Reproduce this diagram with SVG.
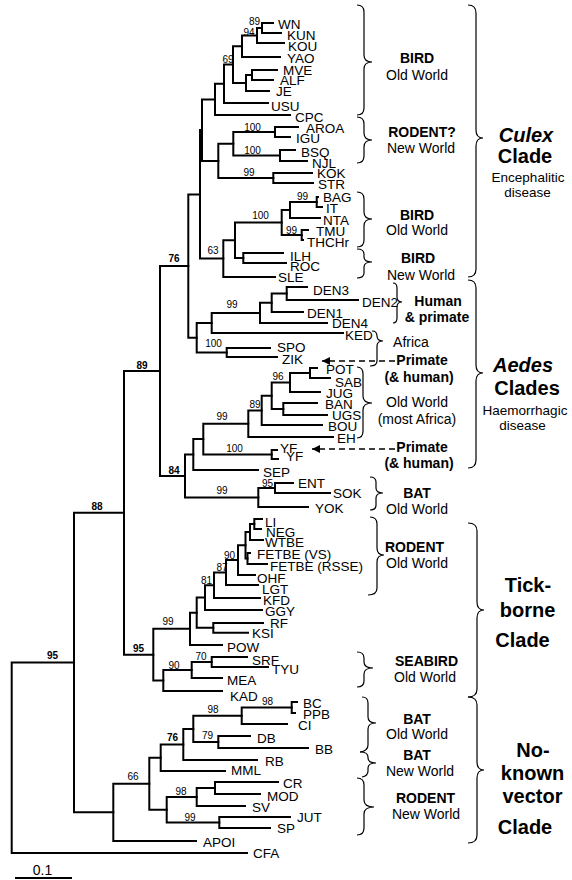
<svg xmlns="http://www.w3.org/2000/svg" width="572" height="880" viewBox="0 0 572 880">
<style>
  text{font-family:"Liberation Sans",Arial,Helvetica,sans-serif;fill:#000}
  .leaf{font-size:13.5px}
  .bs{font-size:10px;text-anchor:middle}
  .bsb{font-size:10px;font-weight:bold;text-anchor:middle}
  .host{font-size:14px;text-anchor:middle}
  .hb{font-size:14px;font-weight:bold;text-anchor:middle}
  .clade{font-size:20px;font-weight:bold;text-anchor:middle}
  .cladei{font-size:20px;font-weight:bold;font-style:italic;text-anchor:middle}
  .sub{font-size:13.5px;text-anchor:middle}
  .branch{fill:none;stroke:#000;stroke-width:2;stroke-linecap:square}
  .brace{fill:none;stroke:#000;stroke-width:1.2}
  .dash{fill:none;stroke:#000;stroke-width:1.3;stroke-dasharray:6 4}
</style>
<defs>
  <marker id="head" viewBox="0 0 10 10" refX="10" refY="5" markerWidth="10" markerHeight="8" markerUnits="userSpaceOnUse" orient="auto">
    <path d="M0,0L10,5L0,10z" fill="#000"/>
  </marker>
</defs>
<rect width="572" height="880" fill="#fff"/>

<!-- tree branches -->
<g id="connectors">
  <!-- Culex clade -->
  <path class="branch" d="M262,23V33M262,23H273M262,33H281"/>
  <path class="branch" d="M257,28V43M257,28H262M257,43H284"/>
  <path class="branch" d="M242,35.5V57M242,35.5H257M242,57H280"/>
  <path class="branch" d="M252,70V80M252,70H277M252,80H273"/>
  <path class="branch" d="M246,75V91M246,75H252M246,91H269"/>
  <path class="branch" d="M233,46.25V83M233,46.25H242M233,83H246"/>
  <path class="branch" d="M224,64.6V103M224,64.6H233M224,103H268"/>
  <path class="branch" d="M215,83.8V115M215,83.8H224M215,115H290"/>
  <path class="branch" d="M275,127V137M275,127H298M275,137H290"/>
  <path class="branch" d="M280,150V161M280,150H295M280,161H307"/>
  <path class="branch" d="M233.3,132V155.5M233.3,132H275M233.3,155.5H280"/>
  <path class="branch" d="M273.3,173V183M273.3,173H312M273.3,183H313"/>
  <path class="branch" d="M218.3,143.75V178M218.3,143.75H233.3M218.3,178H273.3"/>
  <path class="branch" d="M202,99.4V160.9M202,99.4H215M202,160.9H218.3"/>
  <path class="branch" d="M316.7,197V207M316.7,197H318M316.7,207H322"/>
  <path class="branch" d="M290,202V218M290,202H316.7M290,218H320"/>
  <path class="branch" d="M301.7,230V240M301.7,230H308M301.7,240H303"/>
  <path class="branch" d="M281.7,210V235M281.7,210H290M281.7,235H301.7"/>
  <path class="branch" d="M243.3,253V263M243.3,253H283M243.3,263H286"/>
  <path class="branch" d="M235,222.5V258M235,222.5H281.7M235,258H243.3"/>
  <path class="branch" d="M223.3,240.25V277M223.3,240.25H235M223.3,277H275"/>
  <path class="branch" d="M200,130.1V258.6M200,130.1H202M200,258.6H223.3"/>
  <path class="branch" d="M188.3,194.4V337.7M188.3,194.4H200M188.3,337.7H196.7"/>
  <!-- Aedes clades -->
  <path class="branch" d="M286.7,287V300M286.7,287H307M286.7,300H358"/>
  <path class="branch" d="M271.7,293.5V312M271.7,293.5H286.7M271.7,312H303"/>
  <path class="branch" d="M260,302.75V323M260,302.75H271.7M260,323H327"/>
  <path class="branch" d="M211.7,312.9V333M211.7,312.9H260M211.7,333H343"/>
  <path class="branch" d="M226.7,348V357M226.7,348H270M226.7,357H277"/>
  <path class="branch" d="M196.7,323V352.5M196.7,323H211.7M196.7,352.5H226.7"/>
  <path class="branch" d="M310,368V378M310,368H317M310,378H330"/>
  <path class="branch" d="M290,373V392M290,373H310M290,392H320"/>
  <path class="branch" d="M283.3,403V415M283.3,403H317M283.3,415H327"/>
  <path class="branch" d="M271.7,382.5V409M271.7,382.5H290M271.7,409H283.3"/>
  <path class="branch" d="M261.7,395.75V425M261.7,395.75H271.7M261.7,425H322"/>
  <path class="branch" d="M248.3,410.4V437M248.3,410.4H261.7M248.3,437H333"/>
  <path class="branch" d="M271.7,450V459M271.7,450H277M271.7,459H278"/>
  <path class="branch" d="M203.3,423.7V454.5M203.3,423.7H248.3M203.3,454.5H271.7"/>
  <path class="branch" d="M193.3,439.1V470M193.3,439.1H203.3M193.3,470H258"/>
  <path class="branch" d="M275,483V493M275,483H293M275,493H330"/>
  <path class="branch" d="M258.3,488V507M258.3,488H275M258.3,507H308"/>
  <path class="branch" d="M185,454.5V497.5M185,454.5H193.3M185,497.5H258.3"/>
  <path class="branch" d="M160,266V476M160,266H188.3M160,476H185"/>
  <!-- Tick-borne clade -->
  <path class="branch" d="M254.3,519V529M254.3,519H262M254.3,529H261"/>
  <path class="branch" d="M250,524V540M250,524H254.3M250,540H263"/>
  <path class="branch" d="M247.5,553V564M247.5,553H250M247.5,564H267"/>
  <path class="branch" d="M245.5,532V558.5M245.5,532H250M245.5,558.5H247.5"/>
  <path class="branch" d="M238,545.25V575M238,545.25H245.5M238,575H255"/>
  <path class="branch" d="M226,560.1V585M226,560.1H238M226,585H258"/>
  <path class="branch" d="M214,572.55V598M214,572.55H226M214,598H260"/>
  <path class="branch" d="M205,585.3V610M205,585.3H214M205,610H262"/>
  <path class="branch" d="M213.3,623V632.7M213.3,623H263M213.3,632.7H248"/>
  <path class="branch" d="M196.7,597.6V627.85M196.7,597.6H205M196.7,627.85H213.3"/>
  <path class="branch" d="M190,612.7V645M190,612.7H196.7M190,645H222"/>
  <path class="branch" d="M211.7,657V667M211.7,657H247M211.7,667H268"/>
  <path class="branch" d="M191.7,662V678M191.7,662H211.7M191.7,678H222"/>
  <path class="branch" d="M163.3,670V691M163.3,670H191.7M163.3,691H222"/>
  <path class="branch" d="M153.3,628.85V680.5M153.3,628.85H190M153.3,680.5H163.3"/>
  <path class="branch" d="M124,371V654.7M124,371H160M124,654.7H153.3"/>
  <!-- No-known-vector clade -->
  <path class="branch" d="M291.7,702V713M291.7,702H297M291.7,713H295"/>
  <path class="branch" d="M241.7,707.5V724M241.7,707.5H291.7M241.7,724H287"/>
  <path class="branch" d="M218.3,736V748M218.3,736H250M218.3,748H308"/>
  <path class="branch" d="M193.3,715.75V742M193.3,715.75H241.7M193.3,742H218.3"/>
  <path class="branch" d="M183.3,728.9V760M183.3,728.9H193.3M183.3,760H257"/>
  <path class="branch" d="M160.7,744.45V771M160.7,744.45H183.3M160.7,771H225"/>
  <path class="branch" d="M215,782V794M215,782H278M215,794H260"/>
  <path class="branch" d="M196.7,788V806M196.7,788H215M196.7,806H245"/>
  <path class="branch" d="M219.3,817V828M219.3,817H290M219.3,828H270"/>
  <path class="branch" d="M166.7,797V822.5M166.7,797H196.7M166.7,822.5H219.3"/>
  <path class="branch" d="M149.3,757.7V809.75M149.3,757.7H160.7M149.3,809.75H166.7"/>
  <path class="branch" d="M113.3,783.7V841M113.3,783.7H149.3M113.3,841H196"/>
  <path class="branch" d="M74,512.85V812.35M74,512.85H124M74,812.35H113.3"/>
  <path class="branch" d="M11.7,662.6V853M11.7,662.6H74M11.7,853H247"/>
  <!-- pointers to primate hosts -->
  <path class="dash" d="M395,361H322" marker-end="url(#head)"/>
  <path class="dash" d="M395,449H312" marker-end="url(#head)"/>
</g>

<!-- leaf taxa -->
<g id="leaf-WN"><text class="leaf" x="278" y="29">WN</text></g>
<g id="leaf-KUN"><text class="leaf" x="287" y="39.5">KUN</text></g>
<g id="leaf-KOU"><text class="leaf" x="288" y="51">KOU</text></g>
<g id="leaf-YAO"><text class="leaf" x="287" y="63.3">YAO</text></g>
<g id="leaf-MVE"><text class="leaf" x="283" y="75">MVE</text></g>
<g id="leaf-ALF"><text class="leaf" x="280" y="85">ALF</text></g>
<g id="leaf-JE"><text class="leaf" x="276" y="95.7">JE</text></g>
<g id="leaf-USU"><text class="leaf" x="271" y="111">USU</text></g>
<g id="leaf-CPC"><text class="leaf" x="295" y="121.7">CPC</text></g>
<g id="leaf-AROA"><text class="leaf" x="306" y="132.7">AROA</text></g>
<g id="leaf-IGU"><text class="leaf" x="296" y="142.7">IGU</text></g>
<g id="leaf-BSQ"><text class="leaf" x="301" y="156.7">BSQ</text></g>
<g id="leaf-NJL"><text class="leaf" x="312" y="167.7">NJL</text></g>
<g id="leaf-KOK"><text class="leaf" x="317" y="178.3">KOK</text></g>
<g id="leaf-STR"><text class="leaf" x="318" y="189.3">STR</text></g>
<g id="leaf-BAG"><text class="leaf" x="323" y="202">BAG</text></g>
<g id="leaf-IT"><text class="leaf" x="326" y="213.3">IT</text></g>
<g id="leaf-NTA"><text class="leaf" x="323" y="225">NTA</text></g>
<g id="leaf-TMU"><text class="leaf" x="316" y="235.7">TMU</text></g>
<g id="leaf-THCHr"><text class="leaf" x="307" y="246.7">THCHr</text></g>
<g id="leaf-ILH"><text class="leaf" x="290" y="261">ILH</text></g>
<g id="leaf-ROC"><text class="leaf" x="290" y="270.7">ROC</text></g>
<g id="leaf-SLE"><text class="leaf" x="278" y="281.7">SLE</text></g>
<g id="leaf-DEN3"><text class="leaf" x="313" y="295">DEN3</text></g>
<g id="leaf-DEN2"><text class="leaf" x="362" y="306.7">DEN2</text></g>
<g id="leaf-DEN1"><text class="leaf" x="307" y="317.7">DEN1</text></g>
<g id="leaf-DEN4"><text class="leaf" x="332" y="328.3">DEN4</text></g>
<g id="leaf-KED"><text class="leaf" x="345" y="340">KED</text></g>
<g id="leaf-SPO"><text class="leaf" x="277" y="351.7">SPO</text></g>
<g id="leaf-ZIK"><text class="leaf" x="282" y="364">ZIK</text></g>
<g id="leaf-POT"><text class="leaf" x="326" y="374.3">POT</text></g>
<g id="leaf-SAB"><text class="leaf" x="335" y="386.7">SAB</text></g>
<g id="leaf-JUG"><text class="leaf" x="326" y="397.7">JUG</text></g>
<g id="leaf-BAN"><text class="leaf" x="325" y="409">BAN</text></g>
<g id="leaf-UGS"><text class="leaf" x="332" y="420">UGS</text></g>
<g id="leaf-BOU"><text class="leaf" x="328" y="431">BOU</text></g>
<g id="leaf-EH"><text class="leaf" x="337" y="443.3">EH</text></g>
<g id="leaf-YF1"><text class="leaf" x="280" y="453.3">YF</text></g>
<g id="leaf-YF2"><text class="leaf" x="286" y="460.7">YF</text></g>
<g id="leaf-SEP"><text class="leaf" x="263" y="476.7">SEP</text></g>
<g id="leaf-ENT"><text class="leaf" x="298" y="488.3">ENT</text></g>
<g id="leaf-SOK"><text class="leaf" x="333" y="497.7">SOK</text></g>
<g id="leaf-YOK"><text class="leaf" x="315" y="512.7">YOK</text></g>
<g id="leaf-LI"><text class="leaf" x="265" y="527">LI</text></g>
<g id="leaf-NEG"><text class="leaf" x="266" y="537">NEG</text></g>
<g id="leaf-WTBE"><text class="leaf" x="265" y="547">WTBE</text></g>
<g id="leaf-FETBE-VS"><text class="leaf" x="257" y="559">FETBE (VS)</text></g>
<g id="leaf-FETBE-RSSE"><text class="leaf" x="270" y="571">FETBE (RSSE)</text></g>
<g id="leaf-OHF"><text class="leaf" x="257" y="583">OHF</text></g>
<g id="leaf-LGT"><text class="leaf" x="262" y="594">LGT</text></g>
<g id="leaf-KFD"><text class="leaf" x="263" y="605">KFD</text></g>
<g id="leaf-GGY"><text class="leaf" x="265" y="616">GGY</text></g>
<g id="leaf-RF"><text class="leaf" x="270" y="628">RF</text></g>
<g id="leaf-KSI"><text class="leaf" x="252" y="638">KSI</text></g>
<g id="leaf-POW"><text class="leaf" x="227" y="652">POW</text></g>
<g id="leaf-SRF"><text class="leaf" x="252" y="665">SRF</text></g>
<g id="leaf-TYU"><text class="leaf" x="272" y="674">TYU</text></g>
<g id="leaf-MEA"><text class="leaf" x="227" y="685">MEA</text></g>
<g id="leaf-KAD"><text class="leaf" x="230" y="701">KAD</text></g>
<g id="leaf-BC"><text class="leaf" x="303" y="708.3">BC</text></g>
<g id="leaf-PPB"><text class="leaf" x="303" y="719">PPB</text></g>
<g id="leaf-CI"><text class="leaf" x="298" y="730">CI</text></g>
<g id="leaf-DB"><text class="leaf" x="257" y="742.7">DB</text></g>
<g id="leaf-BB"><text class="leaf" x="315" y="754.3">BB</text></g>
<g id="leaf-RB"><text class="leaf" x="265" y="765.7">RB</text></g>
<g id="leaf-MML"><text class="leaf" x="231" y="775">MML</text></g>
<g id="leaf-CR"><text class="leaf" x="283" y="788.3">CR</text></g>
<g id="leaf-MOD"><text class="leaf" x="267" y="800.7">MOD</text></g>
<g id="leaf-SV"><text class="leaf" x="252" y="811.7">SV</text></g>
<g id="leaf-JUT"><text class="leaf" x="297" y="822.3">JUT</text></g>
<g id="leaf-SP"><text class="leaf" x="277" y="833.3">SP</text></g>
<g id="leaf-APOI"><text class="leaf" x="203" y="846.7">APOI</text></g>
<g id="leaf-CFA"><text class="leaf" x="253" y="858.3">CFA</text></g>

<!-- bootstrap support values -->
<g id="support-values">
  <text class="bs" x="254.5" y="24.5">89</text>
  <text class="bs" x="249" y="35.5">94</text>
  <text class="bs" x="228" y="62.5">69</text>
  <text class="bs" x="252.5" y="130.5">100</text>
  <text class="bs" x="252.5" y="153.5">100</text>
  <text class="bs" x="249" y="175.5">99</text>
  <text class="bs" x="302.5" y="200">99</text>
  <text class="bs" x="260.5" y="218.5">100</text>
  <text class="bs" x="291.5" y="233.5">99</text>
  <text class="bs" x="213" y="253.5">63</text>
  <text class="bsb" x="174" y="261.5">76</text>
  <text class="bs" x="232" y="307.5">99</text>
  <text class="bs" x="213.5" y="347">100</text>
  <text class="bsb" x="142" y="368.5">89</text>
  <text class="bs" x="278" y="380">96</text>
  <text class="bs" x="255" y="407.5">89</text>
  <text class="bs" x="222" y="420">99</text>
  <text class="bs" x="234.5" y="451.5">100</text>
  <text class="bsb" x="174" y="473.5">84</text>
  <text class="bs" x="267.5" y="486.5">95</text>
  <text class="bs" x="222" y="493.5">99</text>
  <text class="bsb" x="97" y="510">88</text>
  <text class="bs" x="229.5" y="558.5">90</text>
  <text class="bs" x="222" y="570.5">87</text>
  <text class="bs" x="206.5" y="583.5">81</text>
  <text class="bs" x="168" y="625">99</text>
  <text class="bsb" x="138.5" y="652">95</text>
  <text class="bsb" x="52.5" y="658.5">95</text>
  <text class="bs" x="201" y="660">70</text>
  <text class="bs" x="174" y="668.5">90</text>
  <text class="bs" x="267.5" y="705">98</text>
  <text class="bs" x="213" y="712.5">98</text>
  <text class="bsb" x="172.5" y="740.5">76</text>
  <text class="bs" x="207.5" y="738.5">79</text>
  <text class="bs" x="133" y="779.5">66</text>
  <text class="bs" x="181" y="794.5">98</text>
  <text class="bs" x="190" y="820.5">99</text>
</g>

<!-- host groupings -->
<g id="host-bird-ow1">
  <path class="brace" d="M357,5Q364,5 364,12V55Q364,62 372,62Q364,62 364,69V108Q364,115 357,115"/>
  <text class="hb" x="417" y="63.3">BIRD</text>
  <text class="host" x="417" y="80">Old World</text>
</g>
<g id="host-rodent-nw1">
  <path class="brace" d="M357,117Q364,117 364,124V133Q364,140 372,140Q364,140 364,147V156Q364,163 357,163"/>
  <text class="hb" x="422" y="136.7">RODENT?</text>
  <text class="host" x="421" y="152.5">New World</text>
</g>
<g id="host-bird-ow2">
  <path class="brace" d="M357,192Q364,192 364,199V212Q364,219 372,219Q364,219 364,226V240Q364,247 357,247"/>
  <text class="hb" x="417" y="220">BIRD</text>
  <text class="host" x="417" y="235">Old World</text>
</g>
<g id="host-bird-nw">
  <path class="brace" d="M357,249Q364,249 364,254V257Q364,262 372,262Q364,262 364,267V273Q364,278 357,278"/>
  <text class="hb" x="418" y="263">BIRD</text>
  <text class="host" x="421" y="280">New World</text>
</g>
<g id="host-human-primate">
  <path class="brace" d="M393,283Q397,283 397,288V297Q397,302 402,302Q397,302 397,307V318Q397,323 393,323"/>
  <text class="hb" x="438" y="305.7">Human</text>
  <text class="hb" x="437" y="321.7">&amp; primate</text>
</g>
<g id="host-africa">
  <path class="brace" d="M372,331Q377,331 377,336Q377,341 383,341Q377,341 377,346V361Q377,366 370,366"/>
  <text class="host" x="411" y="346.7">Africa</text>
</g>
<g id="host-primate1">
  <text class="hb" x="422" y="365">Primate</text>
  <text class="hb" x="419" y="382.3">(&amp; human)</text>
</g>
<g id="host-old-world-africa">
  <path class="brace" d="M357,367Q363,367 363,374V396Q363,403 372,403Q363,403 363,410V431Q363,438 357,438"/>
  <text class="host" x="417" y="406.7">Old World</text>
  <text class="host" x="417" y="424.3">(most Africa)</text>
</g>
<g id="host-primate2">
  <text class="hb" x="422" y="451.7">Primate</text>
  <text class="hb" x="419" y="468.3">(&amp; human)</text>
</g>
<g id="host-bat-ow1">
  <path class="brace" d="M370,477Q376,477 376,482V488Q376,493 383,493Q376,493 376,498V505Q376,510 370,510"/>
  <text class="hb" x="417" y="498.3">BAT</text>
  <text class="host" x="417" y="514.3">Old World</text>
</g>
<g id="host-rodent-ow">
  <path class="brace" d="M370,517Q377,517 377,524V548Q377,555 384,555Q377,555 377,562V588Q377,595 368,595"/>
  <text class="hb" x="414.5" y="551.7">RODENT</text>
  <text class="host" x="417" y="568.3">Old World</text>
</g>
<g id="host-seabird-ow">
  <path class="brace" d="M357,652Q364,652 364,658V662Q364,668 373,668Q364,668 364,674V681Q364,687 357,687"/>
  <text class="hb" x="426.5" y="665.7">SEABIRD</text>
  <text class="host" x="425" y="681.7">Old World</text>
</g>
<g id="host-bat-ow2">
  <path class="brace" d="M362,697Q368,697 368,703V717Q368,723 376,723Q368,723 368,729V745Q368,751 360,752"/>
  <text class="hb" x="417" y="724">BAT</text>
  <text class="host" x="417" y="739">Old World</text>
</g>
<g id="host-bat-nw">
  <path class="brace" d="M360,752Q368,752 368,757V758Q368,763 376,763Q368,763 368,768V771Q368,776 362,777"/>
  <text class="hb" x="417" y="760">BAT</text>
  <text class="host" x="420" y="775.7">New World</text>
</g>
<g id="host-rodent-nw2">
  <path class="brace" d="M357,778Q364,778 364,785V800Q364,807 374,807Q364,807 364,814V828Q364,835 357,835"/>
  <text class="hb" x="425.5" y="803">RODENT</text>
  <text class="host" x="426" y="819">New World</text>
</g>

<!-- major clades -->
<g id="clade-culex">
  <path class="brace" d="M468,5Q476,5 476,13V130Q476,138 483,138Q476,138 476,146V269Q476,277 468,277"/>
  <text class="cladei" x="526" y="142">Culex</text>
  <text class="clade" x="525" y="163">Clade</text>
  <text class="sub" x="528" y="182">Encephalitic</text>
  <text class="sub" x="527.5" y="197">disease</text>
</g>
<g id="clade-aedes">
  <path class="brace" d="M468,280Q476,280 476,288V365Q476,373 483,373Q476,373 476,381V460Q476,468 468,468"/>
  <text class="cladei" x="523" y="372">Aedes</text>
  <text class="clade" x="527" y="395">Clades</text>
  <text class="sub" x="525" y="415">Haemorrhagic</text>
  <text class="sub" x="522.5" y="430">disease</text>
</g>
<g id="clade-tickborne">
  <path class="brace" d="M468,523Q477,523 477,531V602Q477,610 484,610Q477,610 477,618V689Q477,697 468,697"/>
  <text class="clade" x="528" y="592">Tick-</text>
  <text class="clade" x="527.5" y="617">borne</text>
  <text class="clade" x="522.5" y="647">Clade</text>
</g>
<g id="clade-nkv">
  <path class="brace" d="M468,697Q477,697 477,705V762Q477,770 484,770Q477,770 477,778V835Q477,843 468,843"/>
  <text class="clade" x="533" y="757">No-</text>
  <text class="clade" x="532.5" y="780">known</text>
  <text class="clade" x="532.5" y="803">vector</text>
  <text class="clade" x="525" y="834">Clade</text>
</g>

<!-- scale bar -->
<g id="scale-bar">
  <path class="branch" d="M16,878H71" stroke-linecap="butt"/>
  <text x="42.5" y="874.5" font-size="14" text-anchor="middle">0.1</text>
</g>
</svg>
